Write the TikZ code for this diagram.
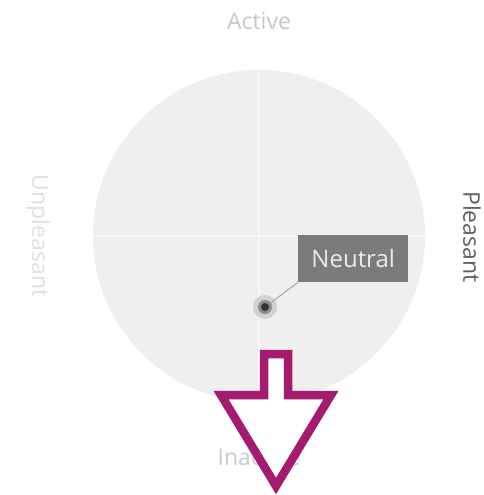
\documentclass[tikz,border=0pt]{standalone}
\usepackage{fontspec}
\setmainfont{Open Sans}
\begin{document}
\begin{tikzpicture}[x=1pt,y=-1pt,
  lbl/.style={font=\fontsize{23}{26}\selectfont, inner sep=0pt},
  axisline/.style={draw=white!97!black, line width=2pt},
  arrowshape/.style={draw=arrowmag, fill=white, line width=8.5pt, line join=miter}]
\definecolor{arrowmag}{HTML}{A51B70}
\definecolor{discfill}{HTML}{EFEFEF}
\definecolor{boxgray}{HTML}{7B7B7B}
\fill[white] (0,0) rectangle (484,495);
\useasboundingbox (0,0) rectangle (484,495);
% disc
\node[circle, fill=discfill, minimum size=332pt, inner sep=0pt] (disc) at (259,236) {};
\draw[axisline] (disc.north) -- (disc.south);
\draw[axisline] (disc.west) -- (disc.east);
% labels
\node[lbl, text=black!22] (active) at (259,21) {Active};
\node[lbl, text=black!12, rotate=-90] (unpleasant) at (38,236) {Unpleasant};
\node[lbl, text=black!62, rotate=-90] (pleasant) at (472,237) {Pleasant};
\node[lbl, text=black!20] (inactive) at (259,457) {Inactive};
% neutral marker
\node[lbl, font=\fontsize{24}{27}\selectfont, fill=boxgray, text=black!8, minimum width=110pt, minimum height=47pt, anchor=north west] (neutral) at (298,235) {Neutral};
\node[circle, fill=black!18, minimum size=24pt, inner sep=0pt] (halo) at (265,307) {};
\node[circle, fill=black!45, minimum size=14pt, inner sep=0pt] (ring) at (265,307) {};
\node[circle, fill=black!80, minimum size=8pt, inner sep=0pt] (dot) at (265,307) {};
\draw[black!35, line width=1pt] (ring) -- (neutral.south west);
% arrow
\coordinate (a1) at (264,354);
\coordinate (a2) at (288,354);
\coordinate (a3) at (288,395);
\coordinate (a4) at (331,395);
\coordinate (a5) at (276,486);
\coordinate (a6) at (221,395);
\coordinate (a7) at (264,395);
\draw[arrowshape] (a1) -- (a2) -- (a3) -- (a4) -- (a5) -- (a6) -- (a7) -- cycle;
\end{tikzpicture}
\end{document}
